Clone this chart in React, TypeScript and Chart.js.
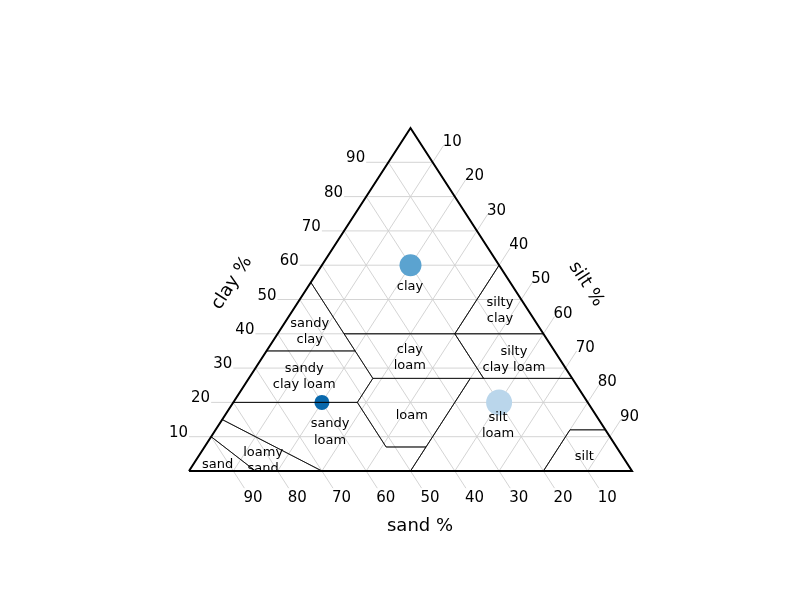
import React, { useEffect, useRef } from 'react';
import { Chart, registerables } from 'chart.js';

Chart.register(...registerables);

// ternary grid values (percent)
const gridValues = [10, 20, 30, 40, 50, 60, 70, 80, 90];
const tickLabels = ['10', '20', '30', '40', '50', '60', '70', '80', '90'];
const tickLen = 5; // percent, length of the outer tick

// USDA soil texture classes, vertices as [clay, silt] (sand = 100 - clay - silt)
const sandPoly = [[0, 0], [0, 15], [10, 0]];
const loamySandPoly = [[0, 15], [0, 30], [15, 0], [10, 0]];
const sandyLoamPoly = [[15, 0], [0, 30], [0, 50], [7, 50], [7, 41], [20, 28], [20, 0]];
const loamPoly = [[7, 41], [7, 50], [27, 50], [27, 28], [20, 28]];
const siltLoamPoly = [[0, 50], [0, 80], [12, 80], [12, 88], [27, 73], [27, 50], [7, 50]];
const siltPoly = [[0, 80], [0, 100], [12, 88], [12, 80]];
const sandyClayLoamPoly = [[20, 0], [20, 28], [27, 28], [35, 20], [35, 0]];
const clayLoamPoly = [[27, 28], [27, 53], [40, 40], [40, 15], [35, 20]];
const siltyClayLoamPoly = [[27, 53], [27, 73], [40, 60], [40, 40]];
const sandyClayPoly = [[35, 0], [35, 20], [55, 0]];
const siltyClayPoly = [[40, 40], [40, 60], [60, 40]];
const clayPoly = [[40, 15], [40, 40], [60, 40], [100, 0], [55, 0]];
const classPolys = [sandPoly, loamySandPoly, sandyLoamPoly, loamPoly, siltLoamPoly, siltPoly,
  sandyClayLoamPoly, clayLoamPoly, siltyClayLoamPoly, sandyClayPoly, siltyClayPoly, clayPoly];

// class labels and their positions [clay, silt]
const classLabels = [['sand'], ['loamy', 'sand'], ['sandy', 'loam'], ['loam'], ['silt', 'loam'], ['silt'],
  ['sandy', 'clay loam'], ['clay', 'loam'], ['silty', 'clay loam'], ['sandy', 'clay'], ['silty', 'clay'], ['clay']];
const classLabelClay = [2.3, 3.5, 11.7, 16.6, 13.7, 4.7, 28.0, 33.5, 32.9, 41.1, 47.2, 54.2];
const classLabelSilt = [5.3, 15.0, 26.0, 42.0, 62.9, 86.9, 12.0, 33.1, 56.9, 6.7, 46.6, 22.8];

// sample points
const sampleClay = [60, 20, 20];
const sampleSilt = [20, 20, 60];
const sampleSand = [20, 60, 20];
const sampleRadius = [11, 7.5, 13];
const sampleColors = ['#5ba3d0', '#0868ac', '#bad6eb'];

const toXY = (clay: number, silt: number) => ({ x: silt + clay / 2, y: clay });

const FONT = '"DejaVu Sans", "Liberation Sans", sans-serif';
const POINTS_INDEX = gridValues.length * 3;

const textPlugin = {
  id: 'ternaryText',
  afterDatasetDraw(chart: any, args: any) {
    if (args.index !== POINTS_INDEX) return;
    const { ctx } = chart;
    const xs = chart.scales.x;
    const ys = chart.scales.y;
    ctx.save();
    ctx.fillStyle = '#000';
    ctx.font = '13px ' + FONT;
    ctx.textAlign = 'center';
    ctx.textBaseline = 'middle';
    classLabels.forEach((lines, i) => {
      const p = toXY(classLabelClay[i], classLabelSilt[i]);
      const px = xs.getPixelForValue(p.x);
      const py = ys.getPixelForValue(p.y) + 1.5;
      const lh = 16.5;
      const n = lines.length;
      lines.forEach((t, j) => {
        ctx.fillText(t, px, py + (j - (n - 1) / 2) * lh);
      });
    });
    ctx.restore();
  },
  afterDatasetsDraw(chart: any) {
    const { ctx } = chart;
    const xs = chart.scales.x;
    const ys = chart.scales.y;
    const P = (clay: number, silt: number) => {
      const p = toXY(clay, silt);
      return [xs.getPixelForValue(p.x), ys.getPixelForValue(p.y)];
    };
    ctx.save();
    ctx.fillStyle = '#000';
    ctx.font = '15px ' + FONT;
    gridValues.forEach((t, i) => {
      // clay ticks (left)
      let [px, py] = P(t, -tickLen);
      ctx.textAlign = 'right';
      ctx.textBaseline = 'alphabetic';
      ctx.fillText(tickLabels[i], px - 1, py);
      // sand ticks (bottom)
      [px, py] = P(-tickLen, 100 - t + tickLen);
      ctx.textAlign = 'left';
      ctx.textBaseline = 'top';
      ctx.fillText(tickLabels[i], px - 1, py + 2);
      // silt ticks (right)
      [px, py] = P(100 - t + tickLen, t);
      ctx.textAlign = 'left';
      ctx.textBaseline = 'alphabetic';
      ctx.fillText(tickLabels[i], px - 1, py + 1);
    });
    // axis titles
    const [tx, ty] = P(100, 0);
    const [lx, ly] = P(0, 0);
    const ang = Math.atan2(ly - ty, tx - lx);
    ctx.font = '18px ' + FONT;
    ctx.textAlign = 'center';
    ctx.textBaseline = 'middle';
    let [cx, cy] = P(54.8, -17.7);
    ctx.save();
    ctx.translate(cx, cy);
    ctx.rotate(-ang);
    ctx.fillText('clay %', 0, 0);
    ctx.restore();
    [cx, cy] = P(54.5, 62.4);
    ctx.save();
    ctx.translate(cx, cy);
    ctx.rotate(ang);
    ctx.fillText('silt %', 0, 0);
    ctx.restore();
    [cx, cy] = P(-15.5, 59.9);
    ctx.fillText('sand %', cx, cy + 2);
    ctx.restore();
  },
};

export default function App() {
  const ref = useRef<HTMLCanvasElement | null>(null);
  useEffect(() => {
    if (!ref.current) return;
    const datasets: any[] = [];
    const lineDs = (pts: { x: number; y: number }[], color: string, width: number, order: number) => ({
      data: pts,
      showLine: true,
      borderColor: color,
      borderWidth: width,
      pointRadius: 0,
      pointHoverRadius: 0,
      fill: false,
      clip: false,
      order,
    });
    gridValues.forEach((t) => {
      datasets.push(lineDs([toXY(t, -tickLen), toXY(t, 100 - t)], '#cfcfcf', 0.9, 5));
      datasets.push(lineDs([toXY(-tickLen, 100 - t + tickLen), toXY(100 - t, 0)], '#cfcfcf', 0.9, 5));
      datasets.push(lineDs([toXY(0, t), toXY(100 - t + tickLen, t)], '#cfcfcf', 0.9, 5));
    });
    datasets.push({
      data: sampleClay.map((c, i) => toXY(c, sampleSilt[i] + 0 * sampleSand[i])),
      showLine: false,
      pointRadius: sampleRadius,
      pointHoverRadius: sampleRadius,
      pointBackgroundColor: sampleColors,
      pointBorderWidth: 0,
      pointBorderColor: sampleColors,
      clip: false,
      order: 3,
    });
    classPolys.forEach((poly) => {
      const pts = poly.map(([c, s]) => toXY(c, s));
      pts.push(pts[0]);
      datasets.push(lineDs(pts, '#000', 0.7, 2));
    });
    datasets.push(lineDs([toXY(0, 0), toXY(0, 100), toXY(100, 0), toXY(0, 0)], '#000', 2, 1));

    const chart = new Chart(ref.current, {
      type: 'scatter',
      data: { datasets },
      options: {
        animation: false,
        responsive: false,
        devicePixelRatio: 1,
        events: [],
        layout: { padding: { left: 189, right: 168, top: 128, bottom: 129 } },
        scales: {
          x: { type: 'linear', min: 0, max: 100, display: false },
          y: { type: 'linear', min: 0, max: 100, display: false },
        },
        plugins: { legend: { display: false }, tooltip: { enabled: false } },
      },
      plugins: [textPlugin],
    } as any);
    return () => chart.destroy();
  }, []);
  return (
    <div style={{ position: 'absolute', left: 0, top: 0, width: 800, height: 600, background: '#fff' }}>
      <canvas ref={ref} width={800} height={600} style={{ display: 'block' }} />
    </div>
  );
}
